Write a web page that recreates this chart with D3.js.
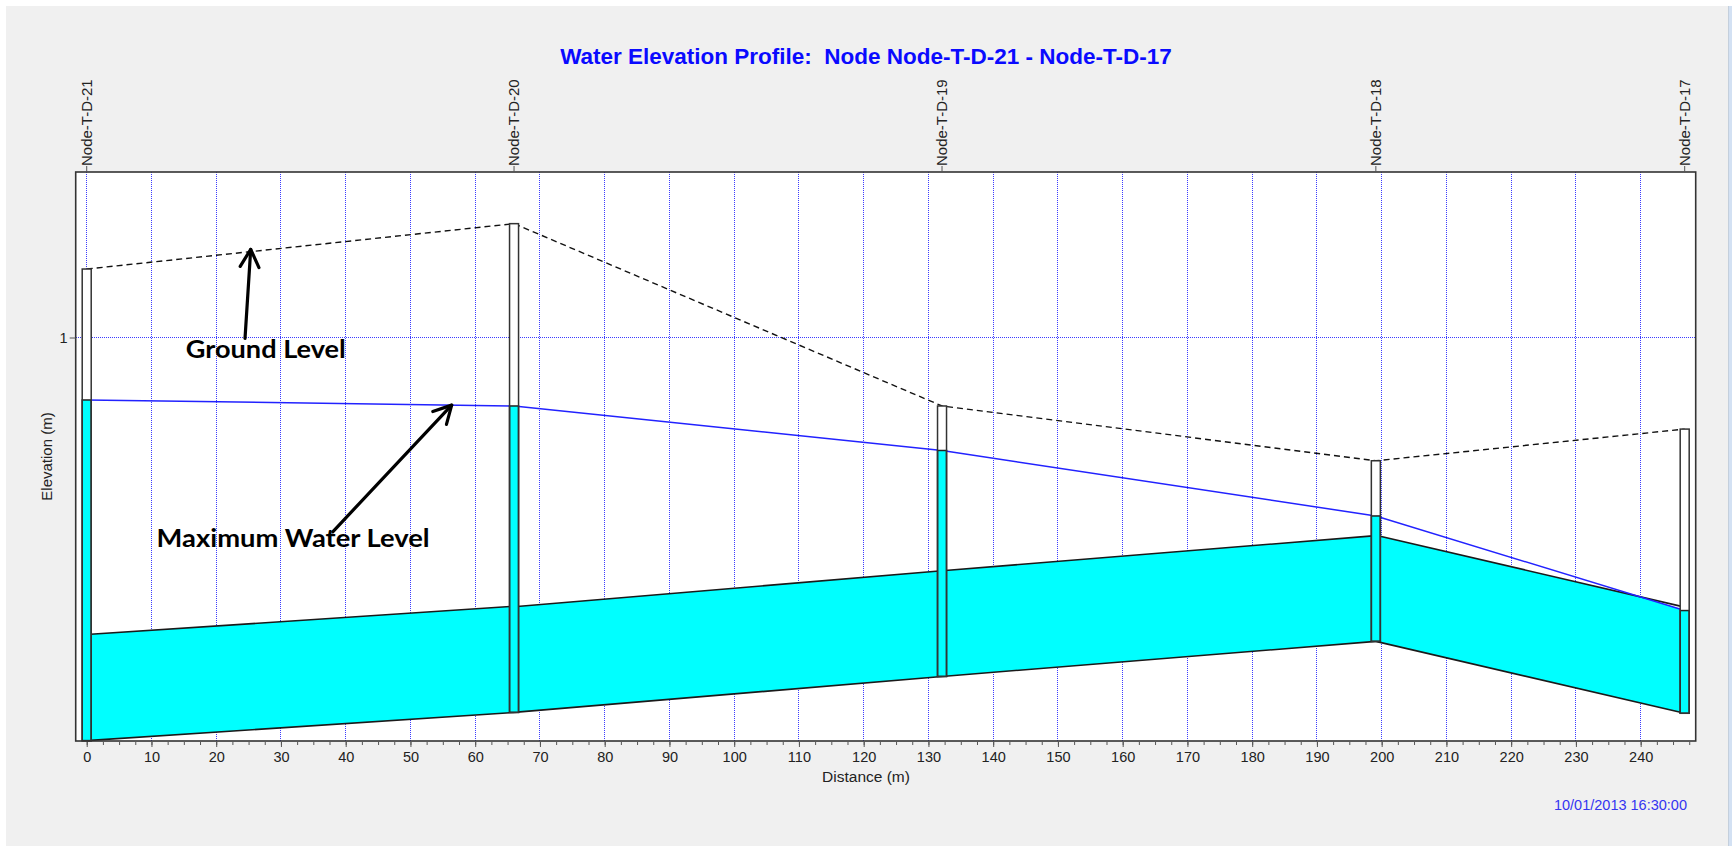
<!DOCTYPE html>
<html><head><meta charset="utf-8">
<script src="https://cdn.jsdelivr.net/npm/d3@7"></script>
<style>body{margin:0;background:#fff;} svg{display:block;}</style>
</head><body>
<svg id="chart" width="1732" height="846"></svg>
<script>
// ---- data ----
const nodeNames = ["Node-T-D-21", "Node-T-D-20", "Node-T-D-19", "Node-T-D-18", "Node-T-D-17"];
const nodeChainage = [0, 66.0, 132.1, 199.1, 246.8];          // m
const groundLevel = [1.160, 1.266, 0.840, 0.712, 0.786];       // m
const maxWaterLevel = [0.854, 0.840, 0.736, 0.583, 0.362];     // m
const invertLevel = [0.058, 0.124, 0.208, 0.290, 0.122];       // m
const pipeDiameter = [0.248, 0.247, 0.247, 0.248];             // m
const xTickLabels = [0,10,20,30,40,50,60,70,80,90,100,110,120,130,140,150,160,170,180,190,200,210,220,230,240];
const yTickLabels = [1];
const titleText = "Water Elevation Profile:  Node Node-T-D-21 - Node-T-D-17";
const dateText = "10/01/2013 16:30:00";
const annGround = {text: "Ground Level", x: 15.3, y: 0.951, tail: [24.45, 0.998], tip: [25.33, 1.206]};
const annWater = {text: "Maximum Water Level", x: 10.8, y: 0.511, tail: [38.0, 0.546], tip: [56.37, 0.842]};

// ---- layout ----
const W = 1732, H = 846;
const plot = {left: 75.7, right: 1695.7, top: 172, bottom: 741};
const x = d3.scaleLinear().domain([-1.7, 248.5]).range([plot.left, plot.right]);
const y = d3.scaleLinear().domain([0.0572, 1.3867]).range([plot.bottom, plot.top]);
const axisFont = "'Liberation Sans', Arial, sans-serif";

const svg = d3.select("#chart");
svg.append("rect").attr("width", W).attr("height", H).attr("fill", "#fff");
svg.append("rect").attr("x", 6).attr("y", 6).attr("width", W - 10).attr("height", H - 6).attr("fill", "#f0f0f0");
svg.append("rect").attr("x", 1728).attr("y", 6).attr("width", 4).attr("height", H - 6).attr("fill", "#d3e1f3");
svg.append("line").attr("x1", 1728.5).attr("x2", 1728.5).attr("y1", 6).attr("y2", H).attr("stroke", "#c4cfdc");

// title
svg.append("text").attr("x", 866).attr("y", 64).attr("text-anchor", "middle")
  .attr("font-family", axisFont).attr("font-weight", "bold").attr("font-size", 22.5)
  .attr("fill", "#0a0aff").attr("xml:space", "preserve").text(titleText);

// plot background
svg.append("rect").attr("x", plot.left).attr("y", plot.top)
  .attr("width", plot.right - plot.left).attr("height", plot.bottom - plot.top).attr("fill", "#fff");

// grid
const grid = svg.append("g");
grid.selectAll("line.v").data(xTickLabels).join("line")
  .attr("x1", d => x(d)).attr("x2", d => x(d)).attr("y1", plot.top).attr("y2", plot.bottom)
  .attr("stroke", "#3c3cff").attr("stroke-width", 1).attr("stroke-dasharray", "1,1").attr("shape-rendering", "crispEdges");
grid.selectAll("line.h").data(yTickLabels).join("line")
  .attr("x1", plot.left).attr("x2", plot.right).attr("y1", d => y(d)).attr("y2", d => y(d))
  .attr("stroke", "#3c3cff").attr("stroke-width", 1).attr("stroke-dasharray", "1,1").attr("shape-rendering", "crispEdges");

// nodes & pipes data
const nodes = nodeNames.map((n, i) => ({name: n, ch: nodeChainage[i], gl: groundLevel[i], wl: maxWaterLevel[i], inv: invertLevel[i]}));
const pipes = pipeDiameter.map((dia, i) => [
  {ch: nodeChainage[i], inv: invertLevel[i], dia: dia},
  {ch: nodeChainage[i + 1], inv: invertLevel[i + 1], dia: dia}
]);

// clip: below max water level
const defs = svg.append("defs");
defs.append("clipPath").attr("id", "belowWater").append("path")
  .attr("d", d3.area().x(d => x(d.ch)).y0(plot.bottom + 2).y1(d => y(d.wl))(nodes));

// pipe water fill
const pipeArea = d3.area().x(d => x(d.ch)).y0(d => y(d.inv)).y1(d => y(d.inv + d.dia));
svg.append("g").attr("clip-path", "url(#belowWater)")
  .selectAll("path").data(pipes).join("path").attr("d", pipeArea).attr("fill", "#00ffff");

// pipe crown and invert lines
const lineInv = d3.line().x(d => x(d.ch)).y(d => y(d.inv));
const lineCrown = d3.line().x(d => x(d.ch)).y(d => y(d.inv + d.dia));
const pipeG = svg.append("g").attr("fill", "none").attr("stroke", "#1a1a1a").attr("stroke-width", 1.6);
pipeG.selectAll("path.inv").data(pipes).join("path").attr("class", "inv").attr("d", lineInv);
pipeG.selectAll("path.crown").data(pipes).join("path").attr("class", "crown").attr("d", lineCrown);

// ground level (dashed)
svg.append("path").datum(nodes)
  .attr("d", d3.line().x(d => x(d.ch)).y(d => y(d.gl)))
  .attr("fill", "none").attr("stroke", "#111").attr("stroke-width", 1.4).attr("stroke-dasharray", "6,4");

// max water level
svg.append("path").datum(nodes)
  .attr("d", d3.line().x(d => x(d.ch)).y(d => y(d.wl)))
  .attr("fill", "none").attr("stroke", "#2222ff").attr("stroke-width", 1.5);

// manholes
const mhW = 9;
const mh = svg.append("g").selectAll("g").data(nodes).join("g");
mh.append("rect").attr("x", d => x(d.ch) - mhW / 2).attr("width", mhW)
  .attr("y", d => y(d.gl)).attr("height", d => y(d.inv) - y(d.gl))
  .attr("fill", "#fff");
mh.append("rect").attr("x", d => x(d.ch) - mhW / 2).attr("width", mhW)
  .attr("y", d => y(Math.min(d.wl, d.gl))).attr("height", d => y(d.inv) - y(Math.min(d.wl, d.gl)))
  .attr("fill", "#00ffff").attr("stroke", "#222").attr("stroke-width", 1.5);
mh.append("rect").attr("x", d => x(d.ch) - mhW / 2).attr("width", mhW)
  .attr("y", d => y(d.gl)).attr("height", d => y(d.inv) - y(d.gl))
  .attr("fill", "none").attr("stroke", "#333").attr("stroke-width", 1.5);

// plot border
svg.append("rect").attr("x", plot.left).attr("y", plot.top)
  .attr("width", plot.right - plot.left).attr("height", plot.bottom - plot.top)
  .attr("fill", "none").attr("stroke", "#333").attr("stroke-width", 1.6);

// x axis
const xAxisMinor = d3.axisBottom(x).tickValues(d3.range(0, 248, 2.5)).tickSize(3).tickFormat("");
const xAxisMajor = d3.axisBottom(x).tickValues(xTickLabels).tickSize(5).tickPadding(5).tickFormat(d3.format("d"));
const gxm = svg.append("g").attr("transform", `translate(0,${plot.bottom + 1})`).call(xAxisMinor);
const gx = svg.append("g").attr("transform", `translate(0,${plot.bottom + 1})`).call(xAxisMajor);
[gxm, gx].forEach(g => {
  g.select(".domain").remove();
  g.selectAll(".tick line").attr("stroke", "#555");
  g.selectAll("text").attr("font-family", axisFont).attr("font-size", 14.5).attr("fill", "#222");
});
svg.append("text").attr("x", 866).attr("y", 782).attr("text-anchor", "middle")
  .attr("font-family", axisFont).attr("font-size", 15.5).attr("fill", "#222").text("Distance (m)");

// y axis
const gy = svg.append("g").attr("transform", `translate(${plot.left},0)`)
  .call(d3.axisLeft(y).tickValues(yTickLabels).tickSize(6).tickPadding(2).tickFormat(d3.format("d")));
gy.select(".domain").remove();
gy.selectAll(".tick line").attr("stroke", "#555");
gy.selectAll("text").attr("font-family", axisFont).attr("font-size", 14.5).attr("fill", "#222");
svg.append("text").attr("transform", `translate(47,${(plot.top + plot.bottom) / 2}) rotate(-90)`)
  .attr("text-anchor", "middle").attr("dy", "0.35em")
  .attr("font-family", axisFont).attr("font-size", 15).attr("fill", "#222").text("Elevation (m)");

// node labels on top
const topG = svg.append("g");
topG.selectAll("line").data(nodes).join("line")
  .attr("x1", d => x(d.ch)).attr("x2", d => x(d.ch)).attr("y1", plot.top - 6).attr("y2", plot.top)
  .attr("stroke", "#555");
topG.selectAll("text").data(nodes).join("text")
  .attr("transform", d => `translate(${x(d.ch)},${plot.top - 6}) rotate(-90)`)
  .attr("dy", "0.36em").attr("text-anchor", "start")
  .attr("font-family", axisFont).attr("font-size", 15).attr("fill", "#222").text(d => d.name);

// date
svg.append("text").attr("x", 1687).attr("y", 810).attr("text-anchor", "end")
  .attr("font-family", axisFont).attr("font-size", 14.5).attr("fill", "#3535f0").text(dateText);

// annotations
function arrow(a) {
  const x1 = x(a.tail[0]), y1 = y(a.tail[1]), x2 = x(a.tip[0]), y2 = y(a.tip[1]);
  const ang = Math.atan2(y1 - y2, x1 - x2), L = 20, half = 28 * Math.PI / 180;
  const w1 = [x2 + L * Math.cos(ang + half), y2 + L * Math.sin(ang + half)];
  const w2 = [x2 + L * Math.cos(ang - half), y2 + L * Math.sin(ang - half)];
  const g = svg.append("g").attr("stroke", "#000").attr("stroke-width", 3.2).attr("fill", "none")
    .attr("stroke-linecap", "round").attr("stroke-linejoin", "round");
  g.append("line").attr("x1", x1).attr("y1", y1).attr("x2", x2).attr("y2", y2);
  g.append("path").attr("d", `M${w1[0]},${w1[1]}L${x2},${y2}L${w2[0]},${w2[1]}`);
}
arrow(annGround);
arrow(annWater);
const annFont = "Lato, 'Open Sans', sans-serif";
svg.append("text").attr("x", x(annGround.x)).attr("y", y(annGround.y))
  .attr("font-family", annFont).attr("font-weight", "bold").attr("font-size", 24)
  .attr("textLength", 160).attr("lengthAdjust", "spacingAndGlyphs").attr("fill", "#000").text(annGround.text);
svg.append("text").attr("x", x(annWater.x)).attr("y", y(annWater.y))
  .attr("font-family", annFont).attr("font-weight", "bold").attr("font-size", 24)
  .attr("textLength", 273).attr("lengthAdjust", "spacingAndGlyphs").attr("fill", "#000").text(annWater.text);
</script>
</body></html>
